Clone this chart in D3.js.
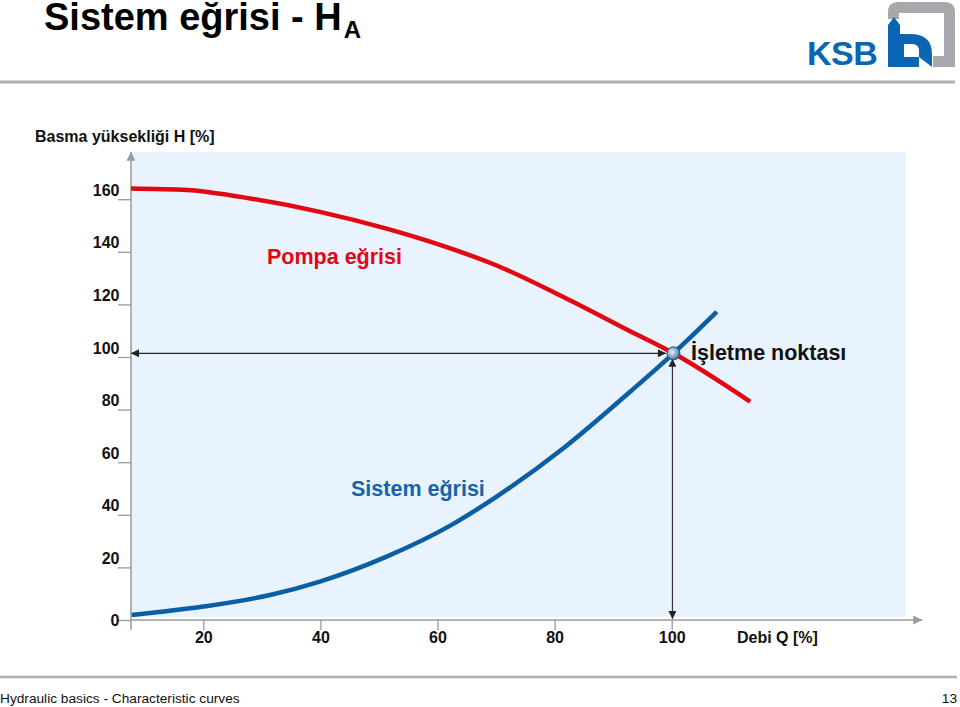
<!DOCTYPE html>
<html>
<head>
<meta charset="utf-8">
<script src="https://cdn.jsdelivr.net/npm/d3@7"></script>
<style>
  html, body { margin: 0; padding: 0; background: #fff; }
  svg { display: block; font-family: Arial, "Liberation Sans", sans-serif; }
</style>
</head>
<body>
<svg id="chart" width="960" height="707"></svg>
<script>
// ---- Data ----
const pumpQ = [7.65, 17.2, 28.5, 39.9, 51.3, 59.9, 70.1, 81.5, 92.9, 100.3, 113.4];
const pumpH = [164.1, 163.5, 160.1, 155.2, 148.8, 143.0, 134.8, 122.8, 109.8, 101.4, 83.0];
const systemQ = [7.77, 20.0, 31.4, 39.9, 51.3, 62.1, 70.1, 81.5, 92.9, 100.3, 107.7];
const systemH = [1.9, 5.1, 9.5, 14.6, 24.1, 35.8, 46.9, 65.3, 86.8, 101.4, 117.2];
const opPoint = { Q: 100.3, H: 101.4 };
const xTicks = [20, 40, 60, 80, 100];
const yTicks = [0, 20, 40, 60, 80, 100, 120, 140, 160];
const axisQ = 7.65;       // Q value where the H axis stands
const qMax = 140, qArrow = 142.8, hMax = 178;

const title = "Sistem eğrisi - H";
const titleSub = "A";
const yTitle = "Basma yüksekliği H [%]";
const xTitle = "Debi Q [%]";
const pumpLabel = "Pompa eğrisi";
const systemLabel = "Sistem eğrisi";
const opLabel = "İşletme noktası";
const footerLeft = "Hydraulic basics - Characteristic curves";
const footerRight = "13";

// ---- Setup ----
const svg = d3.select("#chart");
const x = d3.scaleLinear().domain([0, qMax]).range([86.2, 905.9]);
const y = d3.scaleLinear().domain([0, 160]).range([620, 199.2]);

const RED = "#e30613", BLUE = "#0a5fa4", GRAY = "#9a9a9a";

const defs = svg.append("defs");
function marker(id, color, w, h) {
  defs.append("marker").attr("id", id).attr("viewBox", "0 0 10 10")
    .attr("refX", 10).attr("refY", 5).attr("markerWidth", w).attr("markerHeight", h)
    .attr("markerUnits", "userSpaceOnUse").attr("orient", "auto-start-reverse")
    .append("path").attr("d", "M0,0 L10,5 L0,10 z").attr("fill", color);
}
marker("arrBlack", "#222", 10, 8);
marker("arrGray", GRAY, 12, 9);
const grad = defs.append("radialGradient").attr("id", "opGrad").attr("cx", "40%").attr("cy", "40%").attr("r", "65%");
grad.append("stop").attr("offset", "0%").attr("stop-color", "#e6eef8");
grad.append("stop").attr("offset", "55%").attr("stop-color", "#8fa8c8");
grad.append("stop").attr("offset", "100%").attr("stop-color", "#3d5a80");

// ---- Header ----
const t = svg.append("text").attr("x", 44).attr("y", 30)
  .attr("font-size", 38).attr("font-weight", "bold").attr("fill", "#000");
t.append("tspan").text(title);
t.append("tspan").attr("font-size", 24).attr("dy", 8).attr("dx", 2).text(titleSub);

svg.append("line").attr("x1", 0).attr("x2", 955).attr("y1", 82).attr("y2", 82)
  .attr("stroke", "#b0b0b0").attr("stroke-width", 3);

// Logo
const logo = svg.append("g");
logo.append("path").attr("fill-rule", "evenodd").attr("fill", "#a6a8ab")
  .attr("d", "M898,2 H945 Q955,2 955,12 V67 H933 V56 H944 V13 H899 V19 H888 V12 Q888,2 898,2 Z");
logo.append("path").attr("fill", "#0a66b2")
  .attr("d", "M888,25 L894,17 L900,25 V34 H910 Q932,34 932,54 V67 H888 Z");
logo.append("path").attr("fill", "#fff")
  .attr("d", "M904,44 H912 Q919,44 919,51 V57 H904 Z");
logo.append("path").attr("fill", "#fff")
  .attr("d", "M919,57 L932,67 H919 Z");
logo.append("text").attr("x", 807).attr("y", 65).attr("font-size", 34)
  .attr("font-weight", "bold").attr("fill", "#0a66b2").attr("letter-spacing", -0.5).text("KSB");

// ---- Plot background ----
svg.append("rect").attr("x", x(axisQ)).attr("y", y(hMax))
  .attr("width", x(qMax) - x(axisQ)).attr("height", y(0) - y(hMax) - 3)
  .attr("fill", "#e8f3fd");

// ---- Axes ----
const yAxis = svg.append("g").attr("transform", `translate(${x(axisQ)},0)`)
  .call(d3.axisLeft(y).tickValues(yTicks).tickSize(13).tickSizeOuter(0));
yAxis.select(".domain").remove();
yAxis.selectAll(".tick line").attr("stroke", GRAY).attr("stroke-width", 1.3);
yAxis.selectAll(".tick text")
  .attr("x", -11.5).attr("dy", null)
  .attr("y", d => d === 0 ? 5.5 : -4)
  .attr("font-size", 16).attr("font-weight", "bold").attr("fill", "#111")
  .attr("font-family", "Arial, 'Liberation Sans', sans-serif");

svg.append("line").attr("x1", x(axisQ)).attr("x2", x(axisQ))
  .attr("y1", y(0) + 10).attr("y2", y(hMax))
  .attr("stroke", GRAY).attr("stroke-width", 1.5).attr("marker-end", "url(#arrGray)");

const xAxis = svg.append("g").attr("transform", `translate(0,${y(0)})`)
  .call(d3.axisBottom(x).tickValues(xTicks).tickSize(10).tickSizeOuter(0));
xAxis.select(".domain").remove();
xAxis.selectAll(".tick line").attr("stroke", GRAY).attr("stroke-width", 1.3);
xAxis.selectAll(".tick text")
  .attr("y", 23).attr("dy", null)
  .attr("font-size", 16).attr("font-weight", "bold").attr("fill", "#111")
  .attr("font-family", "Arial, 'Liberation Sans', sans-serif");

svg.append("line").attr("x1", x(axisQ)).attr("x2", x(qArrow))
  .attr("y1", y(0)).attr("y2", y(0))
  .attr("stroke", GRAY).attr("stroke-width", 1.5).attr("marker-end", "url(#arrGray)");

svg.append("text").attr("x", 35).attr("y", 142).attr("font-size", 16)
  .attr("font-weight", "bold").attr("fill", "#111").text(yTitle);
svg.append("text").attr("x", 737).attr("y", 643).attr("font-size", 16)
  .attr("font-weight", "bold").attr("fill", "#111").text(xTitle);

// ---- Operating point guides ----
const r = 6.5;
svg.append("line").attr("x1", x(axisQ)).attr("x2", x(opPoint.Q) - r - 1)
  .attr("y1", y(opPoint.H)).attr("y2", y(opPoint.H))
  .attr("stroke", "#222").attr("stroke-width", 1.2)
  .attr("marker-start", "url(#arrBlack)").attr("marker-end", "url(#arrBlack)");
svg.append("line").attr("x1", x(opPoint.Q) - 1).attr("x2", x(opPoint.Q) - 1)
  .attr("y1", y(opPoint.H) + r - 1).attr("y2", y(0) - 1)
  .attr("stroke", "#333").attr("stroke-width", 1.2)
  .attr("marker-start", "url(#arrBlack)").attr("marker-end", "url(#arrBlack)");

// ---- Curves ----
const line = d3.line().x(d => x(d[0])).y(d => y(d[1])).curve(d3.curveMonotoneX);
svg.append("path").datum(systemQ.map((q, i) => [q, systemH[i]]))
  .attr("d", line).attr("fill", "none").attr("stroke", BLUE).attr("stroke-width", 4.5);
svg.append("path").datum(pumpQ.map((q, i) => [q, pumpH[i]]))
  .attr("d", line).attr("fill", "none").attr("stroke", RED).attr("stroke-width", 4.5);

svg.append("circle").attr("cx", x(opPoint.Q)).attr("cy", y(opPoint.H)).attr("r", r)
  .attr("fill", "url(#opGrad)").attr("stroke", "#2f4c73").attr("stroke-width", 1);

// ---- Labels ----
svg.append("text").attr("x", 267).attr("y", 264).attr("font-size", 21.5)
  .attr("font-weight", "bold").attr("fill", RED).text(pumpLabel);
svg.append("text").attr("x", 351).attr("y", 496).attr("font-size", 21.5)
  .attr("font-weight", "bold").attr("fill", "#1563ab").text(systemLabel);
svg.append("text").attr("x", 691).attr("y", 360).attr("font-size", 21.5)
  .attr("font-weight", "bold").attr("fill", "#111").text(opLabel);

// ---- Footer ----
svg.append("line").attr("x1", 0).attr("x2", 957).attr("y1", 677).attr("y2", 677)
  .attr("stroke", "#b0b0b0").attr("stroke-width", 2.5);
svg.append("text").attr("x", 0).attr("y", 703).attr("font-size", 13.7)
  .attr("fill", "#111").text(footerLeft);
svg.append("text").attr("x", 957).attr("y", 703).attr("font-size", 13.7)
  .attr("text-anchor", "end").attr("fill", "#111").text(footerRight);
</script>
</body>
</html>
